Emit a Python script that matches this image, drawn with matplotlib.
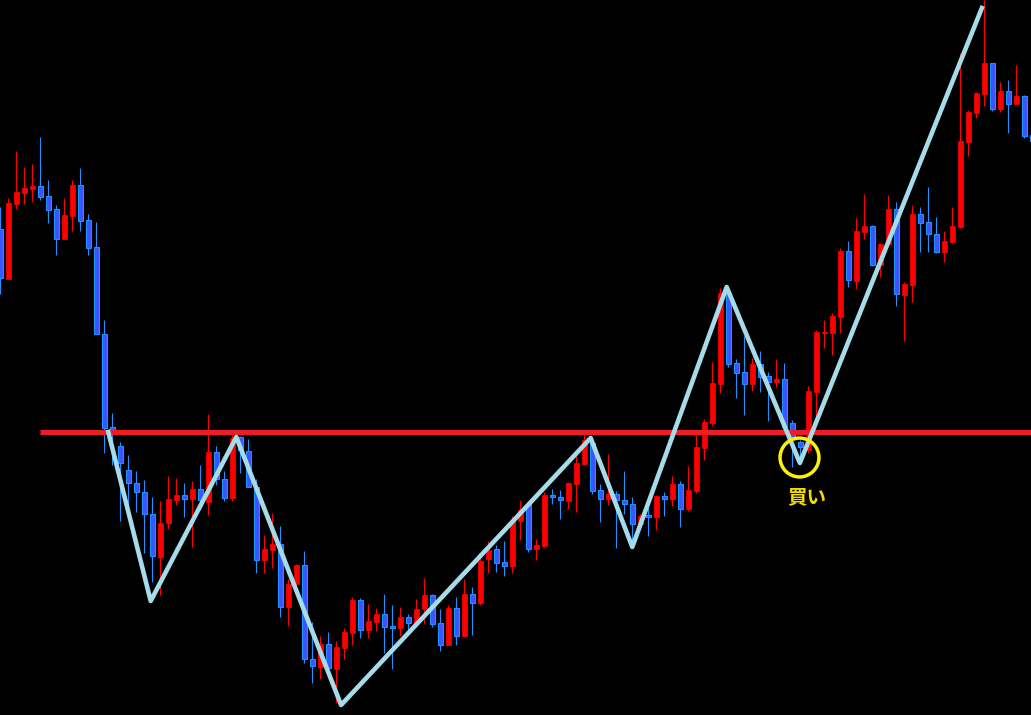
import numpy as np
import matplotlib
matplotlib.use("Agg")
import matplotlib.pyplot as plt

plt.rcParams["font.family"] = ["Noto Sans CJK JP", "DejaVu Sans"]

# ローソク足データ（始値・高値・安値・終値）
opens = [486, 436, 511, 522, 526, 529, 519, 506, 476, 499,
         530, 495, 468, 381, 288, 269, 245, 232, 223, 201,
         158, 192, 215, 220, 216, 226, 213, 263, 236, 217,
         278, 264, 228, 155, 165, 171, 108, 131, 150, 56,
         48, 71, 46, 67, 82, 115, 85, 93, 101, 89,
         87, 98, 92, 106, 120, 92, 70, 107, 79, 121,
         112, 156, 166, 153, 149, 194, 211, 166, 169, 220,
         218, 214, 231, 251, 272, 225, 216, 221, 215, 211,
         191, 200, 198, 219, 216, 231, 206, 224, 267, 292,
         331, 422, 352, 343, 331, 351, 339, 333, 336, 292,
         273, 265, 323, 382, 382, 398, 464, 434, 483, 489,
         450, 471, 506, 420, 430, 501, 493, 481, 463, 473,
         488, 573, 602, 621, 652, 606, 624, 611, 619, 580]
highs = [508, 517, 564, 548, 551, 578, 535, 510, 517, 535,
         547, 501, 493, 395, 302, 273, 260, 244, 235, 218,
         214, 239, 237, 232, 234, 250, 301, 269, 244, 280,
         279, 276, 236, 180, 202, 189, 136, 151, 164, 93,
         79, 83, 74, 87, 118, 117, 111, 107, 121, 110,
         108, 101, 116, 137, 121, 106, 110, 118, 136, 128,
         160, 174, 170, 174, 199, 215, 211, 176, 223, 226,
         225, 233, 262, 281, 274, 231, 261, 224, 244, 218,
         201, 207, 220, 223, 239, 234, 249, 280, 296, 353,
         427, 428, 356, 379, 357, 364, 343, 356, 352, 295,
         275, 329, 385, 395, 402, 467, 474, 497, 521, 490,
         472, 520, 513, 433, 510, 508, 528, 498, 484, 508,
         662, 605, 623, 715, 652, 633, 635, 650, 620, 582]
lows = [421, 436, 506, 511, 513, 515, 492, 460, 476, 484,
        484, 460, 381, 262, 250, 194, 202, 203, 162, 133,
        120, 186, 210, 198, 168, 205, 200, 230, 214, 214,
        242, 228, 142, 142, 147, 98, 89, 131, 52, 32,
        36, 42, 12, 56, 70, 77, 77, 84, 62, 46,
        79, 84, 92, 91, 88, 64, 70, 70, 78, 80,
        110, 142, 143, 139, 142, 175, 163, 155, 168, 211,
        196, 206, 203, 250, 221, 193, 210, 167, 201, 170,
        189, 179, 185, 199, 209, 188, 204, 222, 255, 289,
        322, 348, 317, 300, 324, 323, 294, 328, 282, 248,
        255, 262, 297, 367, 360, 382, 428, 426, 476, 449,
        438, 471, 409, 374, 413, 463, 463, 462, 453, 472,
        487, 559, 597, 609, 604, 603, 582, 611, 577, 570]
closes = [437, 512, 523, 527, 529, 518, 505, 476, 500, 530,
          494, 467, 381, 287, 282, 252, 232, 223, 201, 159,
          192, 216, 220, 216, 226, 215, 263, 236, 217, 277,
          265, 228, 155, 166, 171, 108, 131, 150, 56, 49,
          71, 47, 68, 83, 115, 85, 94, 101, 88, 87,
          98, 92, 106, 120, 91, 70, 107, 79, 121, 112,
          154, 165, 152, 149, 194, 205, 166, 170, 220, 218,
          215, 232, 252, 275, 224, 216, 221, 215, 211, 191,
          199, 198, 219, 216, 231, 206, 225, 268, 293, 332,
          422, 351, 342, 331, 351, 338, 333, 336, 288, 278,
          268, 324, 383, 383, 399, 464, 435, 484, 489, 450,
          471, 506, 421, 431, 501, 492, 481, 463, 474, 489,
          574, 603, 622, 652, 606, 624, 611, 619, 579, 574]

# ジグザグ（高値・安値の転換点）
zz_idx = [13.5, 18.8, 29.5, 42.6, 73.8, 79.0, 90.8, 99.95, 122.7]
zz_price = [283, 114, 278, 10, 277, 168, 428, 252, 707]

neckline = 282.7      # ネックライン
neck_start = 4.96
buy_idx, buy_price = 99.9, 258.3
label_text = "買い"

o = np.array(opens); h = np.array(highs); l = np.array(lows); c = np.array(closes)
x = np.arange(len(o))
up = c >= o

fig = plt.figure(figsize=(10.31, 7.15), dpi=100)
fig.patch.set_facecolor("black")
ax = fig.add_axes([0, 0, 1, 1])
ax.set_facecolor("black")

# ヒゲ
ax.vlines(x[up], l[up], h[up], color="#ff0000", lw=0.8, zorder=2)
ax.vlines(x[~up], l[~up], h[~up], color="#1e90ff", lw=0.8, zorder=2)

# 実体
body_lo = np.minimum(o, c)
body_h = np.maximum(np.abs(c - o), 1)
ax.bar(x[up], body_h[up], bottom=body_lo[up], width=0.6,
       color="#ff0000", edgecolor="#ff0000", lw=0.5, zorder=3)
ax.bar(x[~up], body_h[~up], bottom=body_lo[~up], width=0.6,
       color="#3a55ff", edgecolor="#1e90ff", lw=0.8, zorder=3)

# ネックライン
ax.plot([neck_start, x[-1] + 2], [neckline, neckline], color="#ee1c25",
        lw=3.6, solid_capstyle="butt", zorder=4)

# ジグザグ
ax.plot(zz_idx, zz_price, color="#a6dcea", lw=3.3, zorder=5)

# 買いポイント
ax.plot(buy_idx, buy_price, "o", ms=28, mfc="none", mec="#fff200", mew=2.5, zorder=6)
ax.text(buy_idx + 0.9, buy_price - 40.6, label_text, color="#f5dc00",
        fontsize=14, fontweight="bold", ha="center", va="center", zorder=6)

ax.set_xlim(-0.0375, 128.84)
ax.set_ylim(0, 715)
ax.axis("off")

fig.savefig("out.png", dpi=100, facecolor="black")
